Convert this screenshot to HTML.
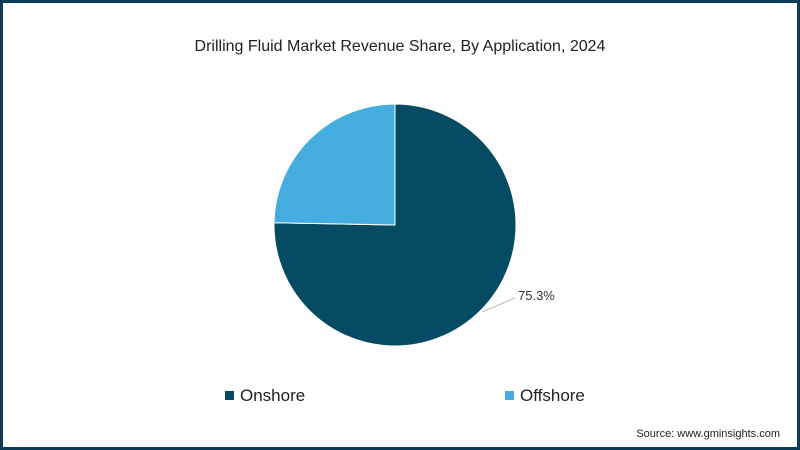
<!DOCTYPE html>
<html><head><meta charset="utf-8"><style>
body{margin:0;width:800px;height:450px;overflow:hidden;background:#fff;font-family:"Liberation Sans",sans-serif}
#frame{position:absolute;left:0;top:0;width:794px;height:444px;border:3px solid #0d3d55;}
</style></head><body>
<div id="frame"></div>
<svg id="chart" width="800" height="450" style="position:absolute;left:0;top:0">
<text x="400" y="51" text-anchor="middle" font-size="16" fill="#222">Drilling Fluid Market Revenue Share, By Application, 2024</text>
<g id="slices"></g>
<line x1="482" y1="312" x2="515" y2="298" stroke="#bbb" stroke-width="1"/>
<text x="518" y="300" font-size="13" fill="#333" id="lbl"></text>
<rect x="225" y="391" width="9" height="9" fill="#054b63"/>
<text x="240" y="401" font-size="17" fill="#222">Onshore</text>
<rect x="505" y="391" width="9" height="9" fill="#45ade0"/>
<text x="520" y="401" font-size="17" fill="#222">Offshore</text>
<text x="780" y="437" text-anchor="end" font-size="11" fill="#222">Source: www.gminsights.com</text>
</svg>
<script>
const categories=["Onshore","Offshore"];
const shares=[75.3,24.7];
const colors=["#054b63","#45ade0"];
const cx=395,cy=225,r=121;
const g=document.getElementById('slices');
const total=shares.reduce((a,b)=>a+b,0);
let a0=0;
function pt(a){return [cx+r*Math.sin(a),cy-r*Math.cos(a)];}
shares.forEach((v,i)=>{
  const a1=a0+v/total*2*Math.PI;
  const p0=pt(a0),p1=pt(a1);
  const p=document.createElementNS('http://www.w3.org/2000/svg','path');
  p.setAttribute('d',`M${cx},${cy}L${p0[0]},${p0[1]}A${r},${r} 0 ${a1-a0>Math.PI?1:0} 1 ${p1[0]},${p1[1]}Z`);
  p.setAttribute('fill',colors[i]);
  p.setAttribute('stroke','#fff');
  p.setAttribute('stroke-width','1');
  
  
  g.appendChild(p);
  a0=a1;
});
document.getElementById('lbl').textContent=shares[0].toFixed(1)+'%';
</script>
</body></html>
